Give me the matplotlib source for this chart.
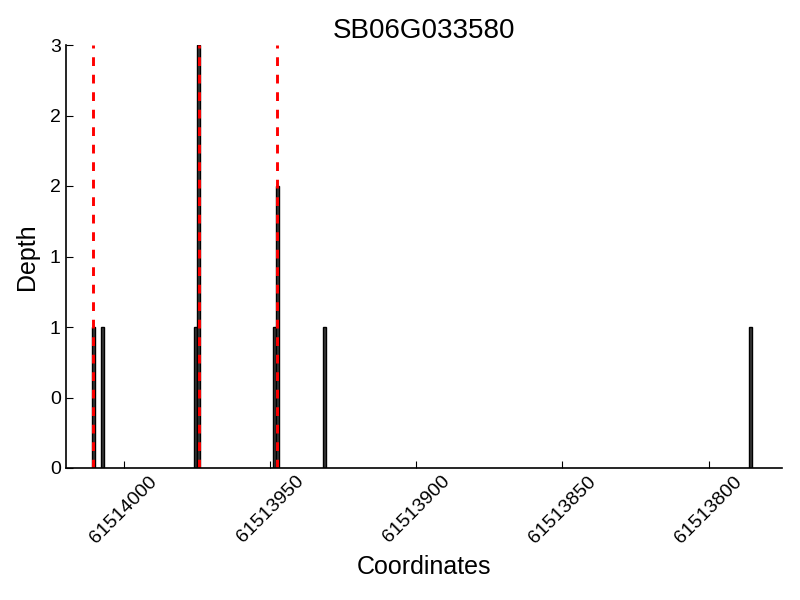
import numpy as np
import matplotlib
matplotlib.use("Agg")
import matplotlib.pyplot as plt
from matplotlib.ticker import FormatStrFormatter

plt.rcParams["font.family"] = ["Liberation Sans", "DejaVu Sans"]

gene = "SB06G033580"

# read depths per coordinate
positions = [61514011, 61514008, 61513976, 61513975, 61513949, 61513948, 61513932, 61513786]
depths = [1, 1, 1, 3, 1, 2, 1, 1]

# marked sites (red dashed)
sites = [61514011, 61513975, 61513948]

xlim = (61514020, 61513775)

fig = plt.figure(figsize=(8, 6), dpi=100)
ax = fig.add_axes([0.082, 0.22, 0.895, 0.705])

# bars drawn from each coordinate one base downward (axis is reversed)
ax.bar(positions, depths, width=-1, align="edge", color="#3a3a3a",
       edgecolor="black", linewidth=1)
for s in sites:
    ax.axvline(s - 0.5, color="red", linestyle=(0, (3, 3)), linewidth=2.1)

ax.set_xlim(*xlim)
ax.set_ylim(0, 3)
ax.set_yticks(np.arange(0, 3.01, 0.5))
ax.yaxis.set_major_formatter(FormatStrFormatter("%d"))
ax.set_xticks([61514000, 61513950, 61513900, 61513850, 61513800])
ax.xaxis.set_major_formatter(FormatStrFormatter("%d"))

for side in ["top", "right"]:
    ax.spines[side].set_visible(False)
for side in ["left", "bottom"]:
    ax.spines[side].set_linewidth(1.2)

ax.tick_params(direction="in", length=5, labelsize=14)
plt.setp(ax.get_xticklabels(), rotation=45)

ax.set_xlabel("Coordinates", fontsize=18, labelpad=6)
ax.set_ylabel("Depth", fontsize=18, labelpad=8)
ax.set_title(gene, fontsize=20, pad=5)

fig.savefig("out.png", dpi=100)
